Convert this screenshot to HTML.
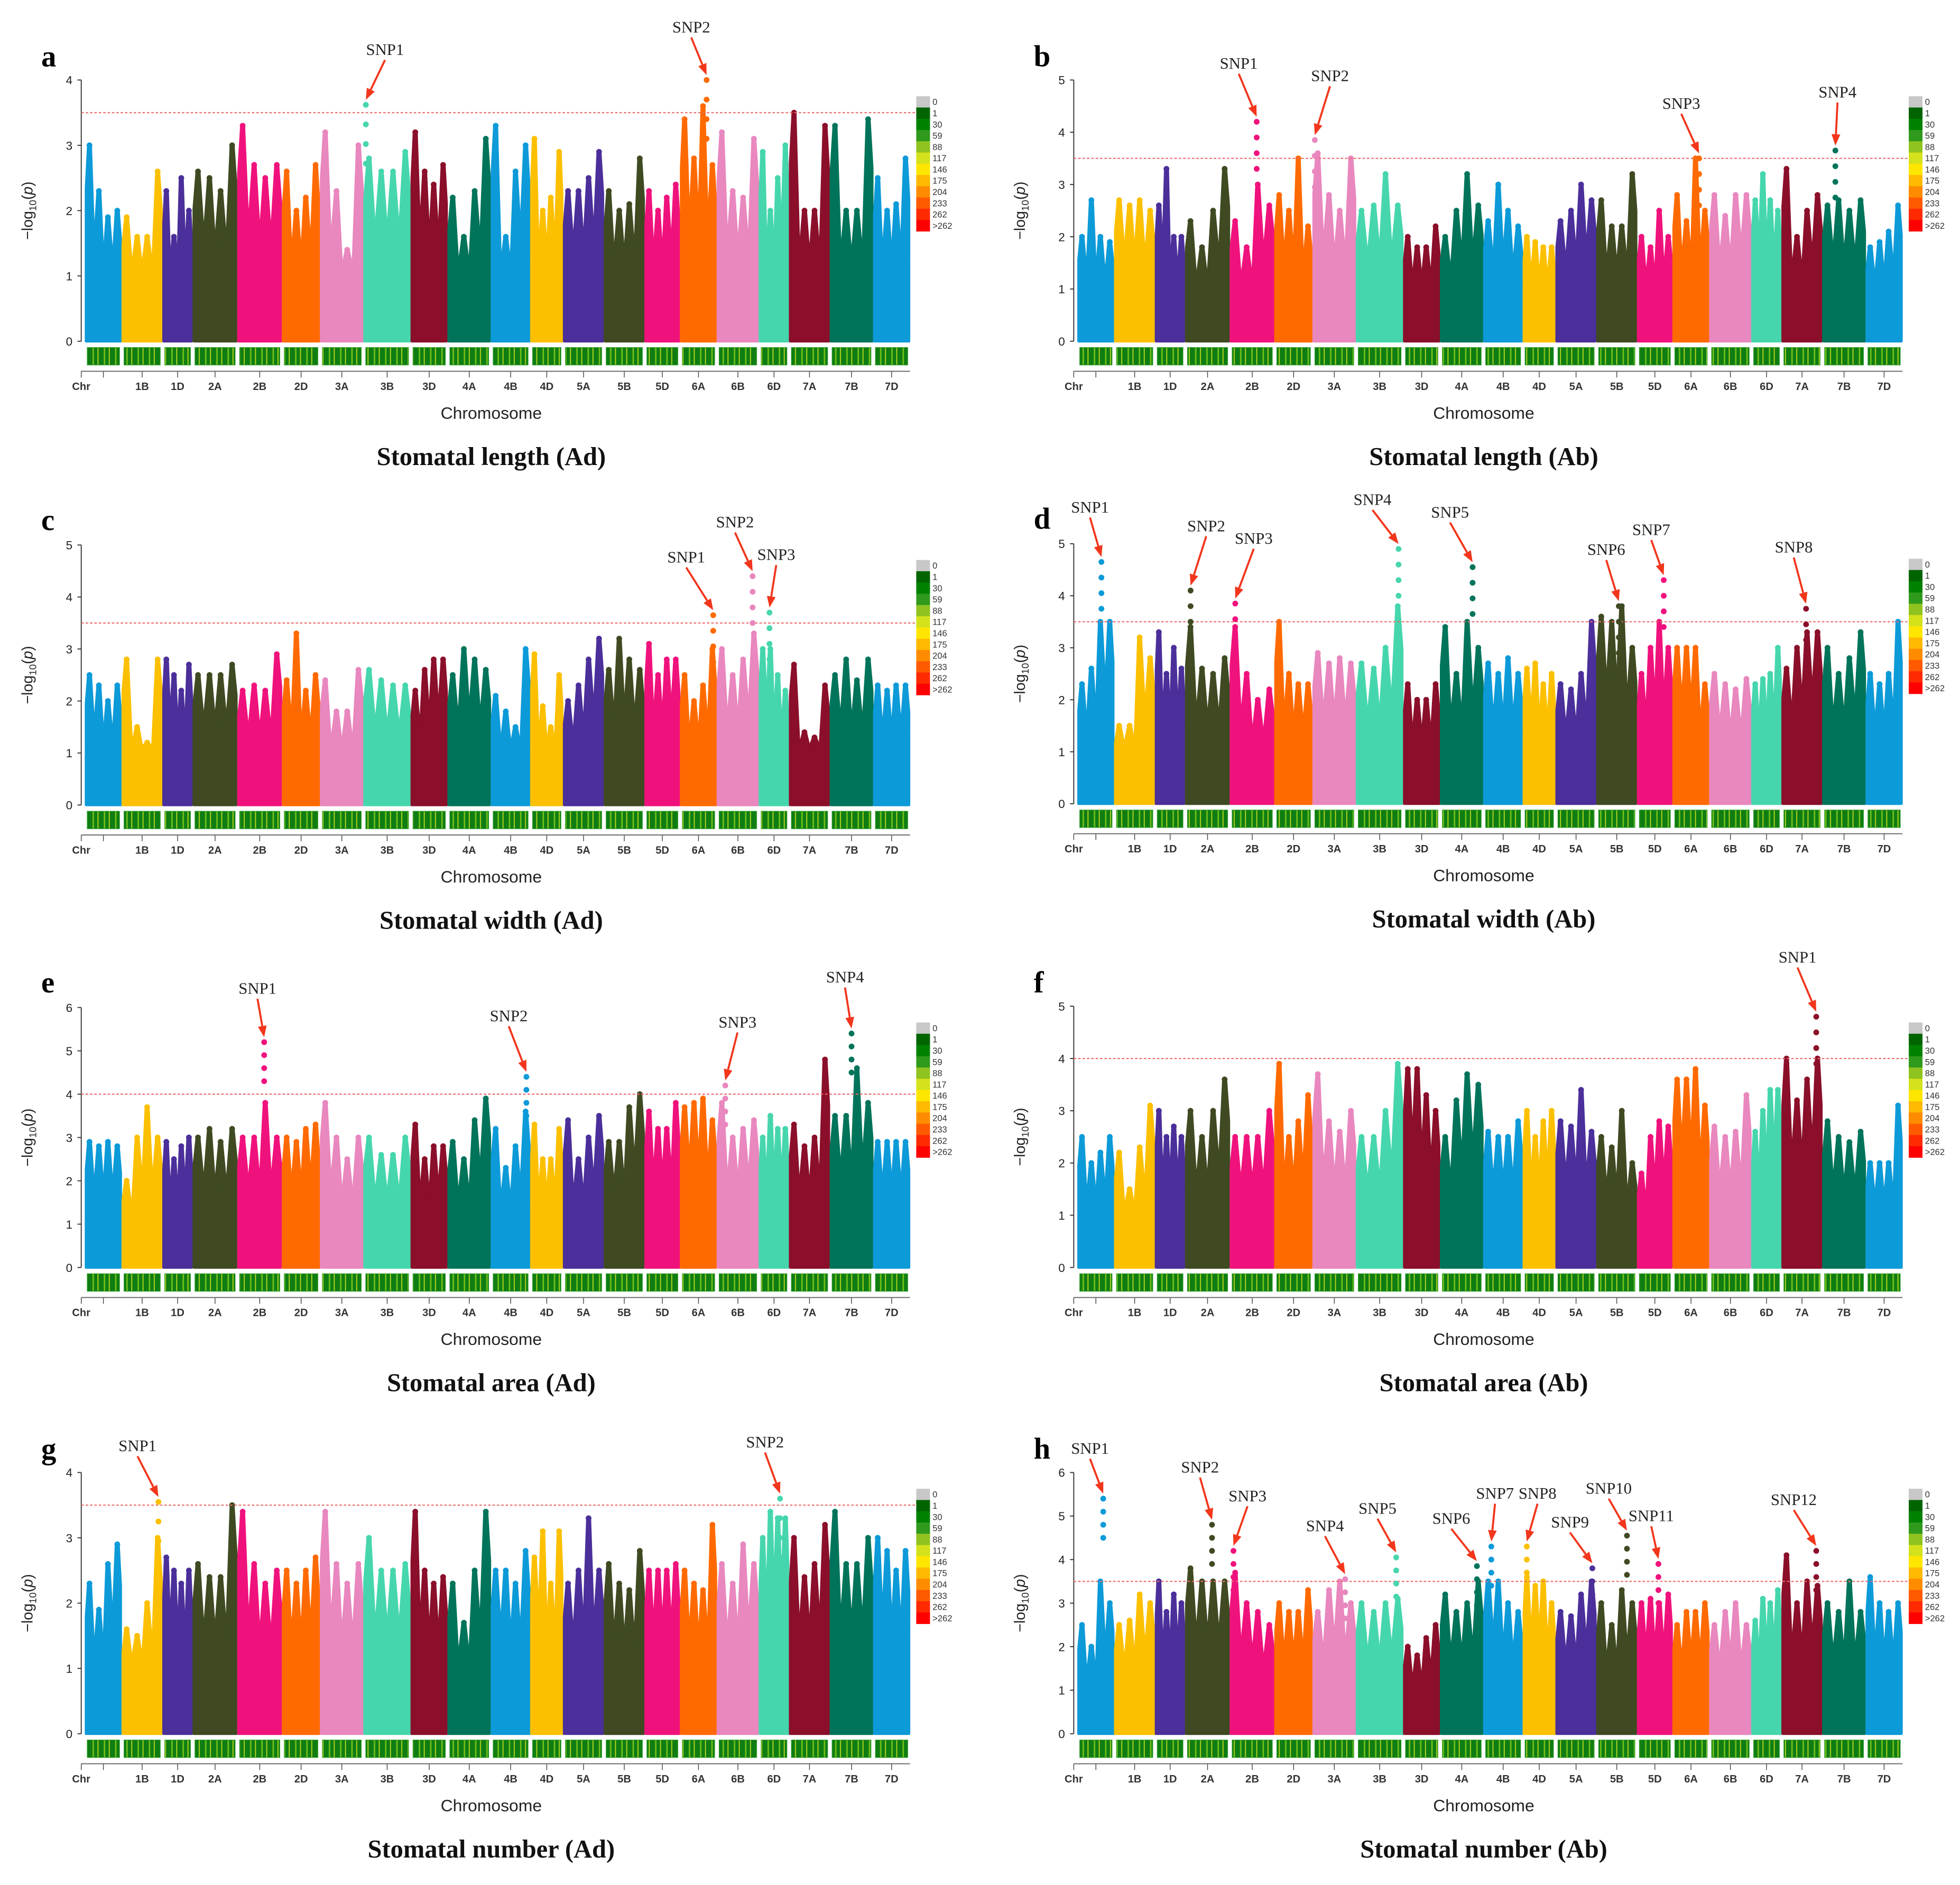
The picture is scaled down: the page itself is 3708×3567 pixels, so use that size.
<!DOCTYPE html>
<html><head><meta charset="utf-8">
<style>
html,body{margin:0;padding:0;background:#fff;}
svg{display:block;}
text{font-family:"Liberation Sans",sans-serif;}
.ttl{font-family:"Liberation Serif",serif;font-weight:bold;}
.snp{font-family:"Liberation Serif",serif;}
</style></head>
<body>
<svg id="fig" xmlns="http://www.w3.org/2000/svg" width="3708" height="3567" viewBox="0 0 1568 1508" preserveAspectRatio="none">
<defs>
<pattern id="band" patternUnits="userSpaceOnUse" width="9" height="14">
<rect width="9" height="14" fill="#0f7d12"/>
<rect x="2" width="1.2" height="14" fill="#6fbf1a"/>
<rect x="6" width="0.8" height="14" fill="#b8d61e"/>
</pattern>
</defs>
</svg>
<script>
const chrNames=["1A","1B","1D","2A","2B","2D","3A","3B","3D","4A","4B","4D","5A","5B","5D","6A","6B","6D","7A","7B","7D"];
const chrLen=[28,31,23,34,34,29,33,36,28,33,30,25,31,31,27,28,32,23,31,33,28];
const chrColors=["#0d9ad8","#fcc000","#4b2f9a","#3f4a22","#f0127c","#ff6a00","#e987bf","#46d6ad","#8b0f2a","#00745a"];
const legendLabels=["0","1","30","59","88","117","146","175","204","233","262",">262"];
const legendColors=["#c8c8c8","#006400","#008200","#2f9a1c","#8fc31f","#d4e21b","#ffe600","#ffb900","#ff8c00","#ff5a00","#ff2a00","#ff0000"];

const envA=[3.0,2.3,1.9,2.0, 1.9,1.6,1.6,2.6, 2.3,1.6,2.5,2.0, 2.6,2.5,2.3,3.0, 3.3,2.7,2.5,2.7, 2.6,2.0,2.2,2.7, 3.2,2.3,1.4,3.0, 2.8,2.6,2.6,2.9, 3.2,2.6,2.4,2.7, 2.2,1.6,2.3,3.1, 3.3,1.6,2.6,3.0, 3.1,2.0,2.2,2.9, 2.3,2.3,2.5,2.9, 2.3,2.0,2.1,2.8, 2.3,2.0,2.2,2.4, 3.4,2.8,3.6,2.7, 3.2,2.3,2.2,3.1, 2.9,2.0,2.5,3.0, 3.5,2.0,2.0,3.3, 3.3,2.0,2.0,3.4, 2.5,2.0,2.1,2.8];
const envB=[2.0,2.7,2.0,1.9, 2.7,2.6,2.7,2.5, 2.6,3.3,2.0,2.0, 2.3,1.8,2.5,3.3, 2.3,1.8,3.0,2.6, 2.8,2.5,3.5,2.2, 3.6,2.8,2.5,3.5, 2.5,2.6,3.2,2.6, 2.0,1.8,1.8,2.2, 2.0,2.5,3.2,2.6, 2.3,3.0,2.5,2.2, 2.0,1.9,1.8,1.8, 2.3,2.5,3.0,2.7, 2.7,2.2,2.2,3.2, 2.0,1.8,2.5,2.0, 2.8,2.3,3.5,2.5, 2.8,2.4,2.8,2.8, 2.7,3.2,2.7,2.5, 3.3,2.0,2.5,2.8, 2.6,2.7,2.5,2.7, 1.8,1.9,2.1,2.6];
const envC=[2.5,2.3,2.0,2.3, 2.8,1.5,1.2,2.8, 2.8,2.5,2.2,2.7, 2.5,2.5,2.5,2.7, 2.2,2.3,2.2,2.9, 2.4,3.3,2.2,2.5, 2.4,1.8,1.8,2.6, 2.6,2.4,2.3,2.3, 2.2,2.6,2.8,2.8, 2.5,3.0,2.8,2.6, 2.1,1.8,1.5,3.0, 2.9,1.9,1.5,2.5, 2.0,2.3,2.8,3.2, 2.6,3.2,2.8,2.6, 3.1,2.5,2.8,2.8, 2.5,2.0,2.3,3.0, 3.0,2.5,2.8,3.3, 3.0,3.0,2.5,2.2, 2.7,1.4,1.3,2.3, 2.5,2.8,2.4,2.8, 2.3,2.2,2.3,2.3];
const envD=[2.3,2.6,3.5,3.5, 1.5,1.5,3.2,2.8, 3.3,2.5,3.0,2.6, 3.4,2.6,2.5,2.8, 3.4,2.5,2.0,2.2, 3.5,2.5,2.3,2.3, 2.9,2.7,2.8,2.7, 2.7,2.6,3.0,3.8, 2.3,2.0,2.0,2.3, 3.4,2.5,3.5,3.0, 2.7,2.5,2.8,2.5, 2.6,2.7,2.3,2.5, 2.3,2.2,2.5,3.5, 3.6,3.5,3.8,3.0, 2.5,3.0,3.5,3.0, 3.0,3.0,3.0,2.3, 2.5,2.3,2.2,2.4, 2.3,2.4,2.5,3.0, 2.6,3.0,3.3,3.3, 3.0,2.5,2.8,3.3, 2.5,2.3,2.5,3.5];
const envE=[2.9,2.8,2.9,2.8, 2.0,3.0,3.7,3.0, 2.9,2.5,2.8,3.0, 3.0,3.2,2.9,3.2, 3.0,3.0,3.8,3.0, 3.0,2.9,3.2,3.3, 3.8,3.0,2.5,3.0, 3.0,2.6,2.6,3.0, 3.3,2.5,2.8,2.8, 2.9,2.5,3.4,3.9, 3.2,2.3,2.8,3.6, 3.3,2.5,2.5,3.2, 3.4,2.5,3.0,3.5, 2.9,2.9,3.7,4.0, 3.6,3.2,3.2,3.8, 3.7,3.8,3.9,3.4, 3.8,3.0,3.2,3.4, 3.0,3.5,3.2,3.2, 3.3,2.8,3.0,4.8, 3.5,3.5,4.6,3.8, 2.9,2.9,2.9,2.9];
const envF=[2.5,2.0,2.2,2.5, 2.2,1.5,2.3,3.1, 3.0,2.5,2.7,2.5, 3.0,2.5,3.0,3.6, 2.5,2.5,2.5,3.0, 3.9,2.5,2.8,3.3, 3.7,2.8,2.6,3.0, 2.5,2.5,3.0,3.9, 3.8,3.8,3.3,3.0, 2.5,3.2,3.7,3.5, 2.6,2.5,2.5,2.8, 3.0,2.5,2.8,3.0, 2.8,2.7,3.4,2.6, 2.5,2.3,3.0,2.0, 1.8,2.5,2.8,2.7, 3.6,3.6,3.8,3.1, 2.7,2.5,2.6,3.3, 2.6,3.0,3.4,3.4, 4.0,3.2,3.6,4.0, 2.8,2.5,2.4,2.6, 2.0,2.0,2.0,3.1];
const envG=[2.3,1.9,2.6,2.9, 1.6,1.5,2.0,3.0, 2.7,2.5,2.3,2.5, 2.6,2.4,2.4,3.5, 3.4,2.6,2.3,2.5, 2.5,2.3,2.5,2.7, 3.4,2.6,2.3,2.6, 3.0,2.5,2.5,2.6, 3.4,2.5,2.3,2.4, 2.3,1.7,2.5,3.4, 2.5,2.5,2.3,2.8, 2.7,3.1,2.3,3.1, 2.3,2.5,3.3,2.5, 2.6,2.3,2.2,2.8, 2.5,2.5,2.5,2.6, 2.5,2.3,2.2,3.2, 2.6,2.3,2.9,2.6, 3.0,3.4,3.3,3.3, 3.0,2.4,2.6,3.2, 3.4,2.6,2.6,3.0, 3.0,2.8,2.5,2.8];
const envH=[2.5,2.0,3.5,3.0, 2.5,2.6,3.2,3.0, 3.5,2.8,3.2,3.0, 3.8,3.5,3.5,3.5, 3.7,3.0,2.8,2.5, 3.0,2.8,2.8,3.3, 2.8,3.3,3.5,3.0, 3.0,2.8,3.0,3.1, 2.0,1.8,2.2,2.5, 3.2,2.8,3.0,3.5, 3.5,3.5,3.0,2.8, 3.6,3.4,3.5,3.0, 2.8,2.7,3.2,3.5, 3.0,2.5,3.3,3.0, 3.0,3.1,3.0,3.2, 2.5,2.8,2.8,3.0, 2.5,2.8,3.0,2.5, 2.6,3.1,3.0,3.3, 4.1,3.0,3.5,3.4, 3.0,2.8,3.5,2.8, 3.6,3.0,2.8,3.0];

/* peaks: [chrIndex, fraction along chromosome, value] */
const peaksA=[[7,0.05,3.62],[15,0.72,4.0]];
const peaksB=[[4,0.6,4.2],[6,0.05,3.85],[15,0.72,3.5],[19,0.3,3.65]];
const peaksC=[[15,0.9,3.65],[16,0.85,4.4],[17,0.35,3.7]];
const peaksD=[[0,0.65,4.65],[3,0.12,4.1],[4,0.12,3.85],[7,0.9,4.9],[9,0.75,4.55],[13,0.55,3.8],[14,0.75,4.3],[18,0.6,3.75]];
const peaksE=[[4,0.6,5.2],[10,0.9,4.4],[16,0.2,4.2],[19,0.5,5.4]];
const peaksF=[[18,0.85,4.8]];
const peaksG=[[1,0.9,3.55],[17,0.7,3.6]];
const peaksH=[[0,0.7,5.4],[3,0.6,4.8],[4,0.08,4.2],[6,0.75,3.55],[7,0.85,4.05],[9,0.85,3.85],[10,0.2,4.3],[11,0.12,4.3],[12,0.9,3.8],[13,0.75,4.55],[14,0.6,3.9],[18,0.85,4.2]];
const labelsA=[[308,40],[553,22]];
const labelsB=[[991,51],[1064,61],[1345,83],[1470,74]];
const labelsC=[[549,446],[588,418],[621,444]];
const labelsD=[[872,406],[965,421],[1003,431],[1098,400],[1160,410],[1285,440],[1321,424],[1435,438]];
const labelsE=[[206,791],[407,813],[590,818],[676,782]];
const labelsF=[[1438,766]];
const labelsG=[[110,1157],[612,1154]];
const labelsH=[[872,1159],[960,1174],[998,1197],[1060,1221],[1102,1207],[1161,1215],[1196,1195],[1230,1195],[1256,1218],[1287,1191],[1321,1213],[1435,1200]];

const panels=[
 {id:"a",ox:0,y0:273,yt:64,ymax:4,thr:3.5,title:"Stomatal length (Ad)",env:envA,pk:peaksA,lb:labelsA},
 {id:"b",ox:794,y0:273,yt:64,ymax:5,thr:3.5,title:"Stomatal length (Ab)",env:envB,pk:peaksB,lb:labelsB},
 {id:"c",ox:0,y0:644,yt:436,ymax:5,thr:3.5,title:"Stomatal width (Ad)",env:envC,pk:peaksC,lb:labelsC},
 {id:"d",ox:794,y0:643,yt:435,ymax:5,thr:3.5,title:"Stomatal width (Ab)",env:envD,pk:peaksD,lb:labelsD},
 {id:"e",ox:0,y0:1014,yt:806,ymax:6,thr:4,title:"Stomatal area (Ad)",env:envE,pk:peaksE,lb:labelsE},
 {id:"f",ox:794,y0:1014,yt:805,ymax:5,thr:4,title:"Stomatal area (Ab)",env:envF,pk:peaksF,lb:labelsF},
 {id:"g",ox:0,y0:1387,yt:1178,ymax:4,thr:3.5,title:"Stomatal number (Ad)",env:envG,pk:peaksG,lb:labelsG},
 {id:"h",ox:794,y0:1387,yt:1178,ymax:6,thr:3.5,title:"Stomatal number (Ab)",env:envH,pk:peaksH,lb:labelsH}
];
const NS="http://www.w3.org/2000/svg";
const svg=document.getElementById("fig");
function mk(tag,attrs,parent){const e=document.createElementNS(NS,tag);for(const k in attrs)e.setAttribute(k,attrs[k]);(parent||svg).appendChild(e);return e;}
const totalLen=chrLen.reduce((a,b)=>a+b,0);

panels.forEach(p=>{
 const g=mk("g",{});
 
 
 const x0=68+p.ox, x1=728+p.ox, ax=65+p.ox;
 const gap=1.6;
 const xs=v=>x0+(x1-x0)*v/totalLen;
 const ys=v=>p.y0-(p.y0-p.yt)*v/p.ymax;
 const L=mk("text",{x:p.ox+33,y:p.y0-220,"font-size":24,"class":"ttl"},g);L.textContent=p.id;
 
 
 const ya=mk("line",{x1:ax,y1:p.y0,x2:ax,y2:p.yt,stroke:"#333","stroke-width":0.8},g);
 
 
 for(let t=0;t<=p.ymax;t++){
  mk("line",{x1:ax-3,y1:ys(t),x2:ax,y2:ys(t),stroke:"#333","stroke-width":0.8},g);
  const tl=mk("text",{x:ax-7,y:ys(t)+3.5,"font-size":9.5,"text-anchor":"end",fill:"#222"},g);tl.textContent=t;
  
  
 }
 const yl=mk("text",{x:0,y:0,"font-size":12,"text-anchor":"middle",fill:"#222",transform:`translate(${p.ox+26},${(p.y0+p.yt)/2}) rotate(-90)`},g);
 yl.innerHTML='\u2212log<tspan font-size="8" dy="3">10</tspan><tspan dy="-3">(</tspan><tspan font-style="italic">p</tspan>)';
 
 
 let cum=0;
 chrNames.forEach((nm,i)=>{
  const a=xs(cum)+gap/2, b=xs(cum+chrLen[i])-gap/2, w=b-a;
  const col=chrColors[i%10];
  const e=p.env.slice(i*4,i*4+4);
  const fr=[0.1,0.37,0.63,0.9], vf=[0.235,0.5,0.765];
  const base=Math.max(1.1,Math.min(...e)*0.6);
  let pts=[[a,0],[a,e[0]*0.78]];
  for(let k=0;k<4;k++){
   pts.push([a+w*fr[k]-1,e[k]]);pts.push([a+w*fr[k]+1,e[k]]);
   if(k<3) pts.push([a+w*vf[k],Math.max(base,0.62*Math.min(e[k],e[k+1]))]);
  }
  pts.push([b,e[3]*0.78]);pts.push([b,0]);
  const poly=mk("polygon",{points:pts.map(q=>q[0].toFixed(1)+","+ys(q[1]).toFixed(1)).join(" "),fill:col,stroke:col,"stroke-width":2,"stroke-linejoin":"round"},g);
  
  
  for(let k=0;k<4;k++){
   const c=mk("circle",{cx:a+w*fr[k],cy:ys(e[k]),r:2.3,fill:col},g);
   
   
  }
  const br=mk("rect",{x:a+1,y:p.y0+5,width:w-2,height:14,fill:"url(#band)",stroke:"#2a9a2a","stroke-width":0.5},g);
  
  
  const mid=(a+b)/2;
  mk("line",{x1:mid,y1:p.y0+24,x2:mid,y2:p.y0+29,stroke:"#444","stroke-width":0.6},g);
  if(i>0){
   const tx=mk("text",{x:mid,y:p.y0+39,"font-size":8.5,"font-weight":"bold","text-anchor":"middle",fill:"#333"},g);tx.textContent=nm;
   
   
  }
  cum+=chrLen[i];
 });
 mk("line",{x1:ax,y1:p.y0+24,x2:x1,y2:p.y0+24,stroke:"#666","stroke-width":0.8},g);
 mk("line",{x1:ax,y1:p.y0+24,x2:ax,y2:p.y0+29,stroke:"#444","stroke-width":0.6},g);
 const chr=mk("text",{x:ax,y:p.y0+39,"font-size":8.5,"font-weight":"bold","text-anchor":"middle",fill:"#333"},g);chr.textContent="Chr";
 
 
 const xt=mk("text",{x:(x0+x1)/2-5,y:p.y0+62,"font-size":13.5,"text-anchor":"middle",fill:"#222"},g);xt.textContent="Chromosome";
 
 
 const tt=mk("text",{x:(x0+x1)/2-5,y:p.y0+99,"font-size":20.5,"text-anchor":"middle","class":"ttl",fill:"#111"},g);tt.textContent=p.title;
 
 
 const th=mk("line",{x1:ax,y1:ys(p.thr),x2:x1+5,y2:ys(p.thr),stroke:"#ec6b6b","stroke-width":0.9,"stroke-dasharray":"2,1.5"},g);
 
 
 const offs=[];let c2=0;chrLen.forEach(l=>{offs.push(c2);c2+=l;});
 p.pk.forEach((pk,j)=>{
  const col=chrColors[pk[0]%10];
  const px=xs(offs[pk[0]]+chrLen[pk[0]]*pk[1]);
  const top=pk[2];
  for(let v=top;v>top-0.9&&v>0;v-=0.3){
   const c=mk("circle",{cx:px,cy:ys(v),r:2.3,fill:col},g);
   
   
  }
  const lb=p.lb[j];
  const st=mk("text",{x:lb[0],y:lb[1]+4,"font-size":13,"text-anchor":"middle","class":"snp",fill:"#222"},g);st.textContent="SNP"+(j+1);
  
  
  const sx=lb[0],sy=lb[1]+8,ex=px,ey=ys(top)-4;
  const ang=Math.atan2(ey-sy,ex-sx),hl=9,hw=3.5;
  const bx=ex-hl*Math.cos(ang),by=ey-hl*Math.sin(ang);
  const ar=mk("line",{x1:sx,y1:sy,x2:bx,y2:by,stroke:"#f2361c","stroke-width":1.6},g);
  
  
  mk("polygon",{points:`${ex},${ey} ${bx+hw*Math.sin(ang)},${by-hw*Math.cos(ang)} ${bx-hw*Math.sin(ang)},${by+hw*Math.cos(ang)}`,fill:"#f2361c"},g);
 });
 const lx=x1+5, ly=p.y0-196;
 const lg=mk("g",{},g);
 
 
 legendColors.forEach((c,k)=>{
  mk("rect",{x:lx,y:ly+k*9,width:11,height:9.2,fill:c},lg);
  const t=mk("text",{x:lx+13,y:ly+k*9+7,"font-size":7,fill:"#333"},lg);t.textContent=legendLabels[k];
 });
});
</script>
</body></html>
